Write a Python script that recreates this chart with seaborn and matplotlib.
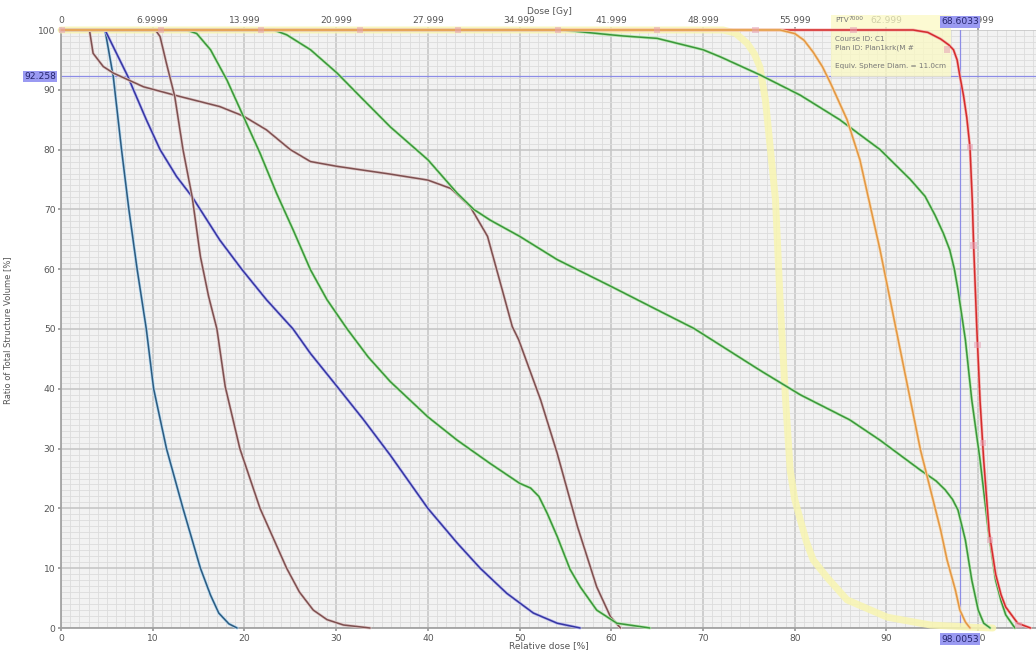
import matplotlib.pyplot as plt
import matplotlib.patheffects as pe
from matplotlib.ticker import MultipleLocator
from matplotlib.patches import Rectangle
import seaborn as sns

# DVH curves: relative dose [%] vs ratio of structure volume [%]
yellow_x = [0, 72.2, 73.5, 74.8, 75.6, 76.2, 76.8, 77.9, 78.4, 79.0, 79.5, 80.0, 80.6, 81.3, 82.0,
            83.5, 85.7, 90.1, 94.8, 99.7, 101.6]
yellow_y = [100, 100, 99.5, 97.8, 96.0, 93.8, 88.3, 71.6, 54.8, 38.1, 26.4, 21.5, 18.1, 14.3, 11.4,
            8.5, 4.7, 1.8, 0.5, 0.1, 0]

teal_x = [0, 4.8, 5.7, 6.6, 7.4, 8.3, 9.3, 10.1, 11.5, 13.3, 15.2, 16.3, 17.2, 18.3, 19.2]
teal_y = [100, 100, 92.2, 80, 70, 60, 50, 40, 30, 20, 10, 5.5, 2.5, 0.7, 0]

navy_x = [0, 4.8, 7.3, 7.9, 9.3, 10.8, 12.6, 14.3, 17.3, 19.7, 22.4, 25.3, 27.2, 30.3, 33.0, 35.9,
          40, 43.2, 45.7, 48.6, 51.5, 54.1, 56.6]
navy_y = [100, 100, 92.2, 90, 85, 80, 75.5, 72.1, 64.9, 60, 54.9, 50, 45.9, 40, 34.8, 28.9,
          20, 14.2, 10, 5.8, 2.5, 0.8, 0]

brown1_x = [0, 3.1, 3.5, 4.6, 5.7, 9.0, 12.4, 17.3, 19.9, 22.4, 25.0, 27.2, 30.1, 35.9, 40, 42.5,
            44.6, 46.5, 47.9, 49.2, 49.9, 52.3, 54.1, 56.3, 58.4, 59.9, 61.0]
brown1_y = [100, 100, 96.1, 93.9, 92.8, 90.5, 89.1, 87.2, 85.6, 83.3, 80, 78.0, 77.2, 75.9, 74.9, 73.5,
            70.5, 65.5, 57.7, 50.4, 48.2, 38.1, 29.2, 17.0, 6.9, 1.9, 0]

brown2_x = [0, 10.3, 10.8, 11.5, 12.4, 13.3, 14.3, 15.2, 16.1, 17.0, 17.9, 19.5, 21.7, 24.6, 26.0,
            27.5, 29.0, 30.8, 33.7]
brown2_y = [100, 100, 98.9, 94.4, 88.9, 80, 72.1, 62.1, 55.4, 50, 40.4, 30, 20, 10, 6.0,
            3.0, 1.4, 0.5, 0]

green1_x = [0, 13.7, 14.8, 16.3, 18.1, 19.9, 21.7, 23.5, 25.3, 27.2, 29.0, 31.2, 33.5, 35.9, 40, 43.2,
            46.8, 50, 51.2, 52.1, 53.0, 54.1, 55.5, 56.6, 58.4, 60.6, 64.2]
green1_y = [100, 100, 99.4, 96.7, 91.6, 85.5, 79.4, 72.7, 66.6, 59.9, 54.9, 50, 45.3, 41.2, 35.3, 31.4,
            27.5, 24.2, 23.4, 22.0, 19.2, 15.3, 9.8, 6.9, 3.0, 0.8, 0]

green2_x = [0, 23.2, 24.6, 27.2, 30.1, 32.6, 35.9, 40, 43.2, 45.0, 46.8, 50, 54.1, 60, 65.0, 69.0, 76.2,
            80.6, 86.0, 89.3, 93.7, 95.4, 96.4, 97.2, 97.8, 98.6, 99.3, 100.0, 100.6, 101.3]
green2_y = [100, 100, 99.2, 96.7, 92.8, 88.9, 83.8, 78.3, 72.7, 70.0, 68.2, 65.5, 61.6, 57.1, 53.2, 50.1, 43.1,
            39.0, 34.8, 31.4, 26.4, 24.6, 23.1, 21.5, 19.7, 14.7, 8.0, 3.0, 0.8, 0]

green3_x = [0, 54.7, 59.9, 61.3, 65.0, 67.9, 70.0, 71.9, 76.2, 80.6, 84.9, 89.3, 92.6, 94.2, 95.3, 96.2,
            96.9, 97.4, 97.8, 98.6, 99.3, 100.2, 101.1, 101.9, 102.5, 103.0, 104.0]
green3_y = [100, 100, 99.2, 99.0, 98.6, 97.5, 96.7, 95.5, 92.5, 89.1, 85, 80, 75, 72.2, 69, 66.0,
            63.2, 60.0, 56.5, 48.2, 38.1, 28.1, 16.4, 8.0, 4.5, 2.2, 0]

orange_x = [0, 78.4, 80.0, 81.0, 82.0, 83.0, 83.9, 85.7, 87.1, 89.3, 91.5, 93.7, 95.9, 96.6, 97.5,
            98.0, 98.6, 99.1]
orange_y = [100, 100, 99.4, 98.3, 96.3, 93.9, 91.1, 85, 78.3, 63.2, 46.5, 29.8, 16.4, 11.4, 6.4,
            3.0, 1.0, 0]

red_x = [0, 92.9, 94.5, 95.9, 96.8, 97.3, 97.7, 98.0, 98.4, 98.75, 99.1, 99.35, 99.5, 99.85, 100.2,
         100.6, 101.2, 101.9, 102.5, 103.0, 104.3, 105.7]
red_y = [100, 100, 99.6, 98.5, 97.5, 96.7, 95.0, 92.3, 89.0, 85.4, 80.4, 71.6, 64.0, 50, 38,
         28, 16, 9, 5.5, 3.5, 0.8, 0]

# sample markers along the PTV curve
mark_x = [0.1, 10.9, 21.8, 32.6, 43.3, 54.2, 65.0, 75.7, 86.4, 96.6, 99.1, 99.5, 99.9, 100.5, 101.3, 104.4]
mark_y = [100, 100, 100, 100, 100, 100, 100, 100, 100, 96.7, 80.4, 64.0, 47.3, 30.9, 14.7, 0.5]

rel_ticks = [0, 10, 20, 30, 40, 50, 60, 70, 80, 90, 100]
dose_labels = ["0", "6.9999", "13.999", "20.999", "27.999", "34.999", "41.999",
               "48.999", "55.999", "62.999", "69.999"]
vol_ticks = [0, 10, 20, 30, 40, 50, 60, 70, 80, 90, 100]

cursor_rel = 98.0053
cursor_vol = 92.258
cursor_dose = 68.6033

sns.set_theme(style="ticks")
plt.rcParams['font.family'] = ['DejaVu Sans']

W, H = 1036, 659
fig = plt.figure(figsize=(W / 100, H / 100), dpi=100)
ax = fig.add_axes([61 / W, 31 / H, 975 / W, 598 / H])
ax.set_facecolor('#f2f2f2')


def draw(x, y, color, halo, lw=1.1, z=3, alpha=1.0):
    sns.lineplot(x=x, y=y, ax=ax, color=color, lw=lw, sort=False, estimator=None,
                 zorder=z, clip_on=False, alpha=alpha,
                 path_effects=[pe.Stroke(linewidth=lw + 1.0, foreground=halo), pe.Normal()])


# pale yellow wide band first
sns.lineplot(x=yellow_x, y=yellow_y, ax=ax, color='#f8f5b0', lw=5, sort=False,
             estimator=None, zorder=2.8, clip_on=False, alpha=0.85)

draw(teal_x, teal_y, '#2d5b7f', '#b0d6f0')
draw(navy_x, navy_y, '#3636a2', '#b8b8ee')
draw(brown1_x, brown1_y, '#7d5050', '#e0c8c8')
draw(brown2_x, brown2_y, '#7d5050', '#e0c8c8')
draw(green1_x, green1_y, '#3b963b', '#b8e8b0')
draw(green2_x, green2_y, '#3b963b', '#b8e8b0')
draw(green3_x, green3_y, '#3b963b', '#b8e8b0')
draw(red_x, red_y, '#d42c2c', '#f4b0b0', z=4)
draw(orange_x, orange_y, '#e08c30', '#f6d6ac', z=4.5, alpha=0.85)

sns.scatterplot(x=mark_x, y=mark_y, ax=ax, marker='s', s=22, color='#e6a3b6',
                alpha=0.55, edgecolor='none', zorder=6, clip_on=False)

# cursor cross-hair
ax.axhline(cursor_vol, color='#8c8ce6', lw=0.9, zorder=2.5)
ax.axvline(cursor_rel, color='#8c8ce6', lw=0.9, zorder=2.5)

# axes, grid
ax.set_xlim(0, 106.3)
ax.set_ylim(0, 100)
ax.set_xticks(rel_ticks)
ax.set_yticks(vol_ticks)
ax.xaxis.set_minor_locator(MultipleLocator(1))
ax.yaxis.set_minor_locator(MultipleLocator(1))
ax.grid(which='major', color='#c4c4c4', lw=1.1)
ax.grid(which='minor', color='#dcdcdc', lw=0.6)
ax.set_axisbelow(True)
for s in ['top', 'right']:
    ax.spines[s].set_visible(False)
for s in ['left', 'bottom']:
    ax.spines[s].set_color('#a0a0a0')
ax.tick_params(which='major', length=2.5, color='#999999', labelsize=6.6,
               labelcolor='#555555', pad=1.5)
ax.tick_params(which='minor', length=0)

sec = ax.secondary_xaxis('top')
sec.set_xticks(rel_ticks, labels=dose_labels)
sec.tick_params(length=2.5, color='#999999', labelsize=6.6, labelcolor='#555555', pad=0.8)
sec.spines['top'].set_visible(False)

# axis titles
fig.text(549 / W, 1 - 12 / H, 'Dose [Gy]', fontsize=6.5, color='#555555', ha='center', va='center')
fig.text(549 / W, 1 - 646 / H, 'Relative dose [%]', fontsize=6.5, color='#555555',
         ha='center', va='center')
fig.text(8 / W, 1 - 330 / H, 'Ratio of Total Structure Volume [%]', fontsize=6, color='#555555',
         ha='center', va='center', rotation=90)

# cursor value boxes
box = dict(boxstyle='square,pad=0.12', fc='#9a9af2', ec='none')
ax.text(-0.0051, cursor_vol, f'{cursor_vol:.3f}', transform=ax.get_yaxis_transform(),
        ha='right', va='center', fontsize=6.6, color='#26266e', bbox=box, clip_on=False, zorder=10)
ax.text(cursor_rel, -0.0185, f'{cursor_rel:.4f}', transform=ax.get_xaxis_transform(),
        ha='center', va='center', fontsize=6.6, color='#26266e', bbox=box, clip_on=False, zorder=10)
ax.text(cursor_rel, 1.0134, f'{cursor_dose:.4f}', transform=ax.get_xaxis_transform(),
        ha='center', va='center', fontsize=6.6, color='#26266e', bbox=box, clip_on=False, zorder=10)

# info tooltip
ax.add_patch(Rectangle((83.9, 92.1), 13.1, 10.4, fc='#fbf9c4', ec='none', alpha=0.75,
                       clip_on=False, zorder=2.7))
info_kw = dict(fontsize=5.2, color='#777777', ha='left', va='center', clip_on=False, zorder=7)
ax.text(84.4, 101.7, 'PTV', **info_kw)
ax.text(85.9, 101.9, '7000', **{**info_kw, 'fontsize': 4.2})
ax.text(84.4, 98.5, 'Course ID: C1', **info_kw)
ax.text(84.4, 97.0, 'Plan ID: Plan1krk(M #', **info_kw)
ax.text(84.4, 94.0, 'Equiv. Sphere Diam. = 11.0cm', **info_kw)

plt.savefig('out.png', dpi=100, facecolor='white')
plt.close()
